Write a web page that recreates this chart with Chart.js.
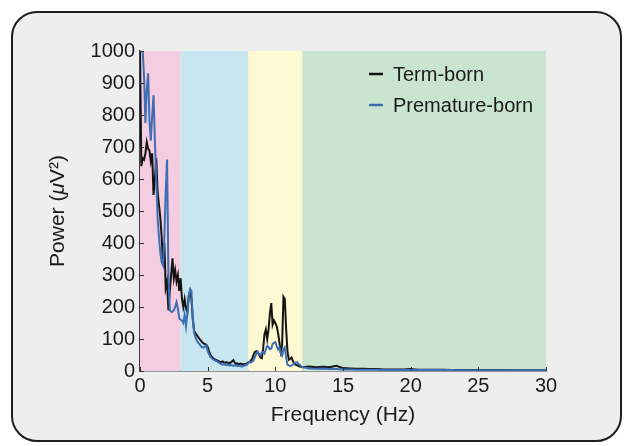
<!DOCTYPE html>
<html>
<head>
<meta charset="utf-8">
<script src="https://cdn.jsdelivr.net/npm/chart.js@4.4.0/dist/chart.umd.min.js"></script>
<style>
  html, body { margin: 0; padding: 0; background: #fff; }
  #frame { position: absolute; left: 11px; top: 11px; width: 607px; height: 427px;
           border: 2px solid #1e1e1e; border-radius: 26px; background: #eeeeee; }
  #wrap { position: absolute; left: 0; top: 0; width: 628px; height: 446px; }
</style>
</head>
<body>
<div id="frame"></div>
<div id="wrap"><canvas id="powerChart"></canvas></div>
<script>
// frequency grid (Hz): 0.1 steps up to 12 Hz, 0.5 steps after
const freqs = [
  0.0,0.1,0.2,0.3,0.4,0.5,0.6,0.7,0.8,0.9,
  1.0,1.1,1.2,1.3,1.4,1.5,1.6,1.7,1.8,1.9,
  2.0,2.1,2.2,2.3,2.4,2.5,2.6,2.7,2.8,2.9,
  3.0,3.1,3.2,3.3,3.4,3.5,3.6,3.7,3.8,3.9,
  4.0,4.1,4.2,4.3,4.4,4.5,4.6,4.7,4.8,4.9,
  5.0,5.1,5.2,5.3,5.4,5.5,5.6,5.7,5.8,5.9,
  6.0,6.1,6.2,6.3,6.4,6.5,6.6,6.7,6.8,6.9,
  7.0,7.1,7.2,7.3,7.4,7.5,7.6,7.7,7.8,7.9,
  8.0,8.1,8.2,8.3,8.4,8.5,8.6,8.7,8.8,8.9,
  9.0,9.1,9.2,9.3,9.4,9.5,9.6,9.7,9.8,9.9,
  10.0,10.1,10.2,10.3,10.4,10.5,10.6,10.7,10.8,10.9,
  11.0,11.1,11.2,11.3,11.4,11.5,11.6,11.7,11.8,11.9,
  12.0,12.5,13.0,13.5,14.0,14.5,15.0,15.5,16.0,16.5,
  17.0,17.5,18.0,18.5,19.0,19.5,20.0,20.5,21.0,21.5,
  22.0,22.5,23.0,23.5,24.0,24.5,25.0,25.5,26.0,26.5,
  27.0,27.5,28.0,28.5,29.0,29.5,30.0
];

// power (uV^2)
const termBorn = [
  1000,640,665,660,680,715,695,688,655,680,
  550,600,665,560,520,480,420,335,400,260,
  280,190,250,300,352,290,315,280,300,250,
  290,225,200,225,195,185,235,250,225,165,
  125,118,112,106,100,95,90,86,84,82,
  75,62,50,45,40,37,35,33,31,29,
  28,30,27,26,28,25,24,27,30,34,
  26,22,24,21,23,22,20,22,20,24,
  27,28,33,40,52,60,62,58,50,42,
  40,70,115,130,100,130,180,212,145,158,
  150,140,120,90,60,80,232,225,130,60,
  35,38,42,30,24,20,18,16,14,13,
  12,14,12,13,12,16,9,8,7,7,
  6,6,5,5,5,5,6,4,4,4,
  4,4,3,3,3,3,3,3,3,3,
  3,2,2,2,2,2,2
];

const prematureBorn = [
  1000,1000,1000,920,775,880,930,780,720,800,
  862,720,600,480,420,370,340,330,420,560,
  661,300,190,185,185,190,200,215,195,165,
  160,158,150,175,140,180,235,255,250,160,
  120,105,95,88,84,78,74,73,76,80,
  62,52,44,40,36,34,32,30,27,24,
  22,20,21,19,18,20,17,19,18,16,
  18,17,15,17,16,14,15,17,18,20,
  25,28,27,30,34,45,55,60,52,48,
  58,60,55,68,78,75,68,70,85,88,
  90,78,68,74,55,48,68,74,40,20,
  17,16,17,20,25,27,28,22,20,15,
  12,8,7,8,6,6,5,5,4,4,
  4,4,3,3,3,3,3,3,3,3,
  3,3,3,2,2,2,2,2,2,2,
  2,2,2,2,2,2,2
];

// frequency bands (delta, theta, alpha, beta)
const bandEdges = [0, 3, 8, 12, 30];
const bandColors = ["#f5cde0", "#c7e6f0", "#fdf9d3", "#c9e4cf"];

const FONT = '"Liberation Sans", Arial, Helvetica, sans-serif';

const bandPlugin = {
    id: "bands",
    beforeDatasetsDraw(chart) {
        const { ctx, chartArea: a, scales: { x } } = chart;
        ctx.save();
        for (let i = 0; i < bandColors.length; i++) {
            const x0 = x.getPixelForValue(bandEdges[i]);
            const x1 = x.getPixelForValue(bandEdges[i + 1]);
            ctx.fillStyle = bandColors[i];
            ctx.fillRect(x0, a.top, x1 - x0, a.bottom - a.top);
        }
        ctx.restore();
    }
};

// small tick marks pointing into the plot
const tickPlugin = {
    id: "inwardTicks",
    afterDraw(chart) {
        const { ctx, chartArea: a, scales: { x, y } } = chart;
        ctx.save();
        ctx.strokeStyle = "#333";
        ctx.lineWidth = 1;
        ctx.beginPath();
        y.ticks.forEach(t => {
            const py = Math.round(y.getPixelForValue(t.value)) + 0.5;
            ctx.moveTo(a.left, py);
            ctx.lineTo(a.left + 4, py);
        });
        x.ticks.forEach(t => {
            const px = Math.round(x.getPixelForValue(t.value)) + 0.5;
            ctx.moveTo(px, a.bottom);
            ctx.lineTo(px, a.bottom - 4);
        });
        ctx.stroke();
        ctx.restore();
    }
};

// y title with an italic mu, rotated
const yTitlePlugin = {
    id: "yTitle",
    afterDraw(chart) {
        const { ctx, chartArea: a } = chart;
        const parts = [
            { t: "Power (", f: "21px " + FONT },
            { t: "μ", f: "italic 21px " + FONT },
            { t: "V²)", f: "21px " + FONT }
        ];
        ctx.save();
        let total = 0;
        parts.forEach(p => { ctx.font = p.f; p.w = ctx.measureText(p.t).width; total += p.w; });
        ctx.translate(58, (a.top + a.bottom) / 2);
        ctx.rotate(-Math.PI / 2);
        ctx.fillStyle = "#1a1a1a";
        ctx.textBaseline = "middle";
        let x = -total / 2;
        parts.forEach(p => { ctx.font = p.f; ctx.fillText(p.t, x, 0); x += p.w; });
        ctx.restore();
    }
};

// legend drawn inside the plot, top right
const legendPlugin = {
    id: "insideLegend",
    afterDraw(chart) {
        const { ctx, chartArea: a } = chart;
        ctx.save();
        ctx.font = "20px " + FONT;
        ctx.textBaseline = "middle";
        chart.data.datasets.forEach((ds, i) => {
            const y = a.top + 23 + i * 31;
            const x = a.left + 229;
            ctx.strokeStyle = ds.borderColor;
            ctx.lineWidth = 2.5;
            ctx.beginPath();
            ctx.moveTo(x, y);
            ctx.lineTo(x + 14, y);
            ctx.stroke();
            ctx.fillStyle = "#1a1a1a";
            ctx.fillText(ds.label, x + 24, y + 1);
        });
        ctx.restore();
    }
};

const toPoints = arr => freqs.map((f, i) => ({ x: f, y: arr[i] }));

const ctx = document.getElementById("powerChart").getContext("2d");
new Chart(ctx, {
    type: "line",
    data: {
        datasets: [
            {
                label: "Term-born",
                data: toPoints(termBorn),
                borderColor: "#141414",
                borderWidth: 2,
                pointRadius: 0,
                order: 2
            },
            {
                label: "Premature-born",
                data: toPoints(prematureBorn),
                borderColor: "#3d6eb3",
                borderWidth: 2,
                pointRadius: 0,
                order: 1
            }
        ]
    },
    options: {
        responsive: true,
        maintainAspectRatio: false,
        animation: false,
        devicePixelRatio: 1,
        layout: { padding: { left: 44, right: 82, top: 51, bottom: 18 } },
        plugins: {
            legend: { display: false },
            tooltip: { enabled: false }
        },
        scales: {
            x: {
                type: "linear",
                min: 0,
                max: 30,
                z: 1,
                afterFit: s => { s.height = 57; },
                ticks: { stepSize: 5, padding: 3, color: "#1a1a1a", font: { size: 20, family: FONT },
                         callback: v => String(v) },
                grid: { display: true, drawOnChartArea: false, drawTicks: false },
                border: { display: true, color: "#3a3a44", width: 1.5 },
                title: { display: true, text: "Frequency (Hz)", color: "#1a1a1a",
                         padding: { top: 0, bottom: 0 }, font: { size: 21, family: FONT } }
            },
            y: {
                min: 0,
                max: 1000,
                z: 1,
                afterFit: s => { s.width = 96; },
                ticks: { stepSize: 100, padding: 5, color: "#1a1a1a", font: { size: 20, family: FONT },
                         callback: v => String(v) },
                grid: { display: true, drawOnChartArea: false, drawTicks: false },
                border: { display: true, color: "#3a3a44", width: 1.5 },
                title: { display: false }
            }
        }
    },
    plugins: [bandPlugin, tickPlugin, yTitlePlugin, legendPlugin]
});
</script>
</body>
</html>
